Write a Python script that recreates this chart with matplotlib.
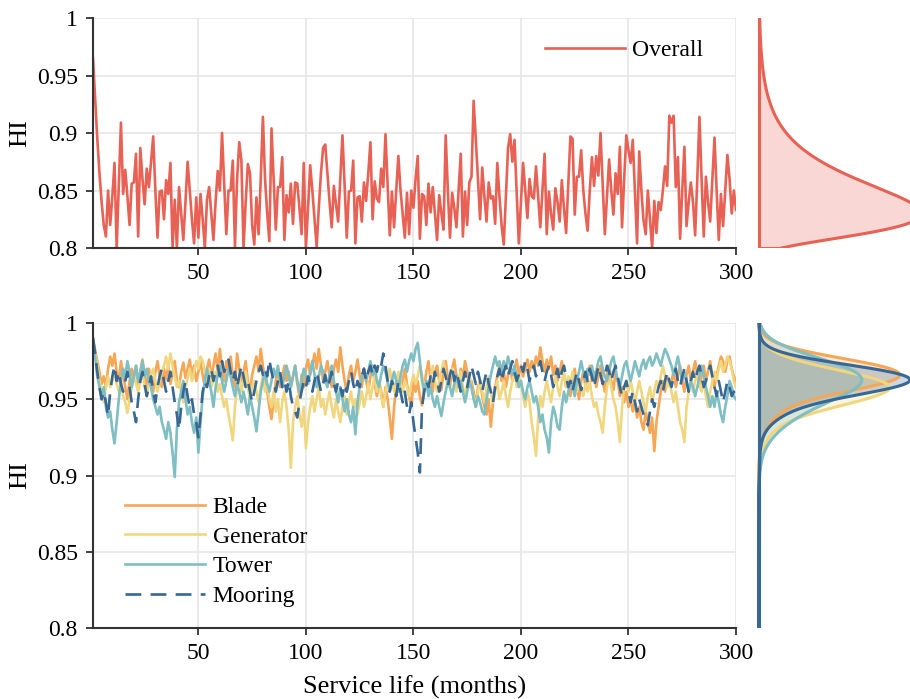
import numpy as np
import matplotlib
matplotlib.use("Agg")
import matplotlib.pyplot as plt

plt.rcParams['font.family'] = ['Liberation Serif', 'DejaVu Serif']

# 1. Data (HI per month, months 1..300)
months = np.arange(1, 301)

overall = [
    0.965, 0.930, 0.895, 0.865, 0.840, 0.820, 0.810, 0.850, 0.820, 0.845,
    0.874, 0.800, 0.855, 0.909, 0.847, 0.868, 0.845, 0.820, 0.856, 0.857,
    0.882, 0.810, 0.887, 0.860, 0.838, 0.869, 0.853, 0.875, 0.897, 0.850,
    0.809, 0.849, 0.850, 0.825, 0.859, 0.847, 0.874, 0.800, 0.842, 0.800,
    0.853, 0.830, 0.807, 0.840, 0.875, 0.850, 0.825, 0.804, 0.844, 0.809,
    0.847, 0.825, 0.800, 0.842, 0.853, 0.830, 0.807, 0.840, 0.867, 0.850,
    0.900, 0.855, 0.812, 0.850, 0.850, 0.876, 0.801, 0.860, 0.892, 0.876,
    0.800, 0.840, 0.873, 0.865, 0.820, 0.803, 0.844, 0.812, 0.860, 0.914,
    0.860, 0.830, 0.806, 0.904, 0.860, 0.816, 0.853, 0.853, 0.879, 0.807,
    0.846, 0.831, 0.856, 0.821, 0.857, 0.856, 0.835, 0.812, 0.874, 0.800,
    0.835, 0.872, 0.850, 0.825, 0.801, 0.835, 0.865, 0.887, 0.890, 0.865,
    0.840, 0.818, 0.854, 0.838, 0.823, 0.860, 0.898, 0.855, 0.809, 0.849,
    0.850, 0.876, 0.804, 0.844, 0.845, 0.823, 0.857, 0.841, 0.865, 0.892,
    0.825, 0.858, 0.843, 0.840, 0.869, 0.853, 0.899, 0.855, 0.811, 0.849,
    0.818, 0.850, 0.880, 0.850, 0.830, 0.809, 0.848, 0.812, 0.850, 0.835,
    0.860, 0.880, 0.808, 0.847, 0.845, 0.820, 0.856, 0.831, 0.853, 0.830,
    0.807, 0.846, 0.830, 0.816, 0.898, 0.850, 0.809, 0.848, 0.835, 0.818,
    0.850, 0.882, 0.810, 0.849, 0.820, 0.857, 0.862, 0.928, 0.895, 0.860,
    0.825, 0.870, 0.845, 0.823, 0.857, 0.843, 0.845, 0.821, 0.874, 0.845,
    0.820, 0.803, 0.845, 0.887, 0.899, 0.875, 0.894, 0.850, 0.804, 0.840,
    0.874, 0.850, 0.826, 0.860, 0.845, 0.843, 0.871, 0.845, 0.818, 0.850,
    0.882, 0.812, 0.849, 0.830, 0.816, 0.852, 0.840, 0.823, 0.859, 0.835,
    0.813, 0.855, 0.897, 0.895, 0.829, 0.862, 0.862, 0.885, 0.850, 0.830,
    0.815, 0.850, 0.879, 0.854, 0.880, 0.863, 0.900, 0.855, 0.812, 0.845,
    0.877, 0.850, 0.829, 0.865, 0.847, 0.888, 0.818, 0.860, 0.898, 0.885,
    0.874, 0.894, 0.850, 0.804, 0.884, 0.850, 0.824, 0.812, 0.850, 0.825,
    0.800, 0.841, 0.813, 0.840, 0.833, 0.850, 0.871, 0.854, 0.915, 0.909,
    0.915, 0.853, 0.879, 0.808, 0.850, 0.888, 0.819, 0.840, 0.857, 0.840,
    0.811, 0.860, 0.914, 0.860, 0.810, 0.862, 0.840, 0.823, 0.860, 0.896,
    0.850, 0.807, 0.847, 0.819, 0.850, 0.881, 0.860, 0.830, 0.850, 0.833,
]

blade = [
    0.990, 0.982, 0.975, 0.968, 0.960, 0.965, 0.958, 0.970, 0.978, 0.972,
    0.980, 0.968, 0.962, 0.975, 0.966, 0.958, 0.950, 0.962, 0.970, 0.964,
    0.972, 0.960, 0.968, 0.976, 0.966, 0.958, 0.970, 0.962, 0.955, 0.968,
    0.975, 0.965, 0.958, 0.970, 0.963, 0.972, 0.960, 0.967, 0.975, 0.962,
    0.958, 0.968, 0.974, 0.964, 0.970, 0.976, 0.966, 0.972, 0.962, 0.968,
    0.975, 0.966, 0.958, 0.970, 0.976, 0.964, 0.972, 0.980, 0.968, 0.983,
    0.970, 0.962, 0.975, 0.968, 0.978, 0.965, 0.958, 0.980, 0.970, 0.962,
    0.968, 0.975, 0.962, 0.955, 0.966, 0.972, 0.978, 0.968, 0.983, 0.972,
    0.962, 0.955, 0.945, 0.937, 0.950, 0.962, 0.970, 0.958, 0.965, 0.972,
    0.962, 0.968, 0.958, 0.965, 0.972, 0.960, 0.952, 0.966, 0.958, 0.970,
    0.976, 0.966, 0.972, 0.980, 0.970, 0.983, 0.972, 0.962, 0.968, 0.975,
    0.965, 0.958, 0.970, 0.976, 0.968, 0.984, 0.972, 0.962, 0.955, 0.966,
    0.972, 0.962, 0.968, 0.976, 0.966, 0.958, 0.970, 0.962, 0.955, 0.965,
    0.972, 0.960, 0.952, 0.962, 0.955, 0.945, 0.958, 0.950, 0.938, 0.924,
    0.945, 0.958, 0.965, 0.955, 0.962, 0.970, 0.960, 0.952, 0.945, 0.962,
    0.955, 0.962, 0.952, 0.946, 0.958, 0.968, 0.975, 0.962, 0.955, 0.968,
    0.972, 0.962, 0.956, 0.968, 0.975, 0.964, 0.958, 0.970, 0.976, 0.965,
    0.958, 0.970, 0.964, 0.975, 0.968, 0.958, 0.962, 0.955, 0.945, 0.958,
    0.962, 0.952, 0.945, 0.940, 0.950, 0.932, 0.948, 0.958, 0.965, 0.972,
    0.962, 0.968, 0.958, 0.966, 0.972, 0.962, 0.970, 0.976, 0.966, 0.972,
    0.965, 0.970, 0.976, 0.968, 0.975, 0.970, 0.978, 0.972, 0.984, 0.975,
    0.968, 0.976, 0.970, 0.978, 0.966, 0.972, 0.962, 0.968, 0.975, 0.966,
    0.958, 0.962, 0.952, 0.965, 0.970, 0.958, 0.950, 0.962, 0.968, 0.958,
    0.965, 0.972, 0.962, 0.968, 0.958, 0.965, 0.972, 0.962, 0.955, 0.966,
    0.972, 0.962, 0.956, 0.968, 0.962, 0.952, 0.958, 0.948, 0.955, 0.945,
    0.950, 0.942, 0.948, 0.938, 0.945, 0.935, 0.930, 0.942, 0.935, 0.928,
    0.938, 0.916, 0.935, 0.945, 0.955, 0.962, 0.955, 0.965, 0.960, 0.962,
    0.968, 0.958, 0.965, 0.972, 0.962, 0.955, 0.966, 0.972, 0.962, 0.968,
    0.975, 0.966, 0.958, 0.965, 0.972, 0.962, 0.968, 0.975, 0.965, 0.958,
    0.966, 0.972, 0.978, 0.975, 0.968, 0.975, 0.978, 0.970, 0.965, 0.962,
]

generator = [
    0.990, 0.980, 0.972, 0.962, 0.955, 0.948, 0.958, 0.965, 0.958, 0.962,
    0.968, 0.960, 0.955, 0.962, 0.952, 0.948, 0.941, 0.950, 0.958, 0.965,
    0.960, 0.955, 0.962, 0.968, 0.958, 0.952, 0.960, 0.966, 0.970, 0.962,
    0.955, 0.962, 0.968, 0.972, 0.978, 0.970, 0.980, 0.972, 0.965, 0.958,
    0.962, 0.955, 0.948, 0.958, 0.964, 0.970, 0.962, 0.968, 0.975, 0.970,
    0.978, 0.975, 0.968, 0.962, 0.970, 0.958, 0.962, 0.968, 0.955, 0.960,
    0.952, 0.945, 0.950, 0.940, 0.932, 0.923, 0.945, 0.958, 0.965, 0.955,
    0.962, 0.968, 0.958, 0.950, 0.958, 0.962, 0.955, 0.948, 0.958, 0.965,
    0.955, 0.960, 0.950, 0.945, 0.955, 0.942, 0.950, 0.935, 0.948, 0.955,
    0.945, 0.930, 0.905, 0.935, 0.945, 0.952, 0.940, 0.932, 0.945, 0.918,
    0.935, 0.945, 0.952, 0.942, 0.950, 0.958, 0.945, 0.950, 0.940, 0.948,
    0.955, 0.945, 0.938, 0.950, 0.942, 0.935, 0.945, 0.952, 0.940, 0.948,
    0.955, 0.945, 0.950, 0.940, 0.948, 0.955, 0.945, 0.952, 0.960, 0.950,
    0.958, 0.965, 0.955, 0.962, 0.952, 0.945, 0.955, 0.962, 0.970, 0.962,
    0.955, 0.962, 0.968, 0.960, 0.955, 0.962, 0.958, 0.952, 0.960, 0.966,
    0.960, 0.965, 0.972, 0.966, 0.958, 0.962, 0.955, 0.965, 0.972, 0.962,
    0.955, 0.962, 0.968, 0.975, 0.965, 0.958, 0.965, 0.970, 0.962, 0.955,
    0.962, 0.968, 0.958, 0.952, 0.960, 0.966, 0.958, 0.952, 0.945, 0.955,
    0.962, 0.955, 0.948, 0.958, 0.965, 0.955, 0.948, 0.955, 0.962, 0.950,
    0.955, 0.962, 0.952, 0.945, 0.955, 0.962, 0.968, 0.958, 0.965, 0.960,
    0.952, 0.945, 0.955, 0.948, 0.935, 0.925, 0.913, 0.938, 0.952, 0.945,
    0.955, 0.962, 0.955, 0.948, 0.958, 0.965, 0.958, 0.952, 0.962, 0.968,
    0.958, 0.965, 0.960, 0.968, 0.962, 0.955, 0.962, 0.958, 0.952, 0.960,
    0.955, 0.962, 0.952, 0.945, 0.948, 0.940, 0.935, 0.928, 0.945, 0.958,
    0.965, 0.958, 0.950, 0.945, 0.935, 0.922, 0.945, 0.958, 0.962, 0.955,
    0.962, 0.955, 0.948, 0.955, 0.962, 0.955, 0.948, 0.942, 0.952, 0.958,
    0.948, 0.955, 0.962, 0.958, 0.965, 0.972, 0.965, 0.958, 0.962, 0.955,
    0.948, 0.955, 0.945, 0.935, 0.930, 0.922, 0.945, 0.955, 0.962, 0.955,
    0.962, 0.968, 0.960, 0.955, 0.962, 0.952, 0.945, 0.955, 0.962, 0.968,
    0.962, 0.970, 0.975, 0.968, 0.972, 0.978, 0.975, 0.970, 0.962, 0.958,
]

tower = [
    0.990, 0.978, 0.965, 0.958, 0.950, 0.958, 0.945, 0.938, 0.942, 0.930,
    0.921, 0.935, 0.950, 0.962, 0.970, 0.965, 0.975, 0.968, 0.958, 0.965,
    0.972, 0.962, 0.968, 0.975, 0.965, 0.970, 0.962, 0.958, 0.950, 0.945,
    0.940, 0.945, 0.935, 0.930, 0.924, 0.935, 0.928, 0.915, 0.899, 0.930,
    0.948, 0.955, 0.962, 0.950, 0.940, 0.945, 0.935, 0.928, 0.938, 0.915,
    0.935, 0.952, 0.962, 0.970, 0.962, 0.955, 0.945, 0.958, 0.966, 0.972,
    0.962, 0.955, 0.962, 0.970, 0.965, 0.958, 0.952, 0.960, 0.955, 0.948,
    0.955, 0.948, 0.940, 0.952, 0.945, 0.938, 0.929, 0.942, 0.955, 0.962,
    0.968, 0.960, 0.955, 0.962, 0.970, 0.965, 0.972, 0.962, 0.958, 0.965,
    0.972, 0.966, 0.958, 0.965, 0.972, 0.962, 0.955, 0.962, 0.970, 0.965,
    0.960, 0.968, 0.975, 0.966, 0.958, 0.965, 0.972, 0.968, 0.962, 0.958,
    0.966, 0.972, 0.962, 0.955, 0.948, 0.958, 0.950, 0.942, 0.950, 0.940,
    0.935, 0.945, 0.927, 0.948, 0.958, 0.965, 0.970, 0.962, 0.968, 0.975,
    0.966, 0.972, 0.962, 0.958, 0.966, 0.972, 0.968, 0.962, 0.955, 0.962,
    0.968, 0.962, 0.955, 0.965, 0.972, 0.976, 0.968, 0.975, 0.980, 0.975,
    0.983, 0.987, 0.975, 0.962, 0.955, 0.962, 0.952, 0.958, 0.950, 0.945,
    0.952, 0.945, 0.939, 0.948, 0.955, 0.962, 0.958, 0.952, 0.960, 0.966,
    0.958, 0.962, 0.955, 0.948, 0.955, 0.962, 0.958, 0.950, 0.945, 0.952,
    0.948, 0.942, 0.940, 0.950, 0.958, 0.966, 0.972, 0.978, 0.972, 0.975,
    0.968, 0.975, 0.970, 0.978, 0.972, 0.966, 0.972, 0.965, 0.958, 0.962,
    0.955, 0.950, 0.958, 0.962, 0.955, 0.948, 0.952, 0.945, 0.935, 0.940,
    0.930, 0.925, 0.915, 0.935, 0.945, 0.940, 0.932, 0.930, 0.945, 0.955,
    0.948, 0.955, 0.962, 0.958, 0.952, 0.962, 0.968, 0.975, 0.968, 0.962,
    0.970, 0.966, 0.972, 0.962, 0.968, 0.975, 0.978, 0.970, 0.965, 0.962,
    0.968, 0.975, 0.978, 0.970, 0.962, 0.958, 0.965, 0.972, 0.975, 0.968,
    0.962, 0.968, 0.975, 0.970, 0.965, 0.972, 0.976, 0.970, 0.975, 0.978,
    0.972, 0.975, 0.980, 0.976, 0.972, 0.978, 0.983, 0.980, 0.976, 0.972,
    0.966, 0.972, 0.978, 0.970, 0.962, 0.968, 0.962, 0.955, 0.962, 0.958,
    0.952, 0.958, 0.965, 0.972, 0.966, 0.958, 0.952, 0.945, 0.952, 0.945,
    0.955, 0.948, 0.940, 0.935, 0.945, 0.952, 0.962, 0.958, 0.952, 0.950,
]

mooring = [
    0.990, 0.980, 0.968, 0.958, 0.950, 0.955, 0.948, 0.939, 0.955, 0.965,
    0.972, 0.962, 0.968, 0.960, 0.955, 0.962, 0.968, 0.958, 0.948, 0.942,
    0.935, 0.950, 0.962, 0.968, 0.960, 0.952, 0.958, 0.965, 0.955, 0.948,
    0.958, 0.965, 0.970, 0.962, 0.955, 0.962, 0.968, 0.958, 0.948, 0.940,
    0.930, 0.945, 0.955, 0.962, 0.952, 0.945, 0.950, 0.940, 0.935, 0.925,
    0.940, 0.955, 0.962, 0.958, 0.965, 0.970, 0.962, 0.968, 0.972, 0.965,
    0.975, 0.968, 0.972, 0.976, 0.968, 0.962, 0.968, 0.958, 0.965, 0.972,
    0.965, 0.958, 0.962, 0.955, 0.948, 0.955, 0.962, 0.968, 0.972, 0.966,
    0.970, 0.965, 0.976, 0.968, 0.962, 0.955, 0.962, 0.968, 0.958, 0.962,
    0.955, 0.962, 0.952, 0.945, 0.942, 0.938, 0.948, 0.955, 0.962, 0.958,
    0.965, 0.960, 0.955, 0.962, 0.968, 0.962, 0.955, 0.960, 0.966, 0.958,
    0.962, 0.968, 0.960, 0.955, 0.962, 0.958, 0.952, 0.960, 0.955, 0.962,
    0.968, 0.960, 0.955, 0.962, 0.958, 0.965, 0.970, 0.962, 0.968, 0.972,
    0.966, 0.972, 0.968, 0.975, 0.972, 0.980, 0.972, 0.962, 0.955, 0.962,
    0.958, 0.952, 0.962, 0.955, 0.948, 0.955, 0.945, 0.940, 0.948, 0.935,
    0.925, 0.915, 0.902, 0.945, 0.955, 0.962, 0.958, 0.965, 0.960, 0.968,
    0.962, 0.955, 0.962, 0.970, 0.965, 0.958, 0.966, 0.972, 0.962, 0.968,
    0.962, 0.955, 0.962, 0.968, 0.958, 0.965, 0.972, 0.966, 0.960, 0.968,
    0.962, 0.955, 0.962, 0.968, 0.960, 0.955, 0.948, 0.958, 0.965, 0.970,
    0.962, 0.968, 0.972, 0.965, 0.970, 0.975, 0.968, 0.962, 0.966, 0.972,
    0.968, 0.975, 0.970, 0.962, 0.968, 0.972, 0.965, 0.970, 0.975, 0.968,
    0.962, 0.968, 0.972, 0.966, 0.958, 0.965, 0.970, 0.962, 0.968, 0.972,
    0.965, 0.958, 0.962, 0.955, 0.962, 0.968, 0.962, 0.956, 0.962, 0.968,
    0.962, 0.970, 0.965, 0.958, 0.965, 0.972, 0.966, 0.960, 0.965, 0.972,
    0.968, 0.962, 0.968, 0.972, 0.965, 0.958, 0.952, 0.958, 0.962, 0.955,
    0.948, 0.955, 0.948, 0.942, 0.950, 0.945, 0.940, 0.938, 0.933, 0.942,
    0.950, 0.945, 0.952, 0.958, 0.962, 0.955, 0.962, 0.968, 0.962, 0.958,
    0.965, 0.970, 0.962, 0.958, 0.965, 0.970, 0.962, 0.955, 0.962, 0.968,
    0.962, 0.968, 0.972, 0.965, 0.958, 0.962, 0.968, 0.972, 0.965, 0.958,
    0.952, 0.962, 0.955, 0.948, 0.955, 0.962, 0.958, 0.952, 0.955, 0.950,
]

components = ["Blade", "Generator", "Tower", "Mooring"]
comp_values = [blade, generator, tower, mooring]
comp_colors = ["#F7A656", "#F0D77F", "#7FBEC2", "#376795"]
overall_color = "#E76254"

x_ticks = [50, 100, 150, 200, 250, 300]
y_ticks = [0.8, 0.85, 0.9, 0.95, 1.0]


def kde(values, grid, bw_scale=1.0):
    v = np.asarray(values)
    h = v.std(ddof=1) * len(v) ** (-1 / 5) * bw_scale
    z = (grid[:, None] - v[None, :]) / h
    return np.exp(-0.5 * z ** 2).mean(axis=1) / (h * np.sqrt(2 * np.pi))


def lognorm_fit(values, grid, loc):
    # shifted log-normal fitted to log(y - loc)
    t = np.log(np.asarray(values) - loc)
    mu, sd = t.mean(), t.std()
    d = grid - loc
    return np.exp(-(np.log(d) - mu) ** 2 / (2 * sd ** 2)) / (d * sd * np.sqrt(2 * np.pi))


def style_main(ax):
    ax.set_xlim(1, 300)
    ax.set_ylim(0.8, 1.0)
    ax.set_xticks(x_ticks)
    ax.set_yticks(y_ticks)
    ax.set_yticklabels([f"{t:g}" for t in y_ticks])
    ax.grid(True, color="#E6E6E6", lw=1.2)
    ax.set_axisbelow(True)
    for s in ["top", "right"]:
        ax.spines[s].set_visible(False)
    for s in ["left", "bottom"]:
        ax.spines[s].set_color("#333333")
        ax.spines[s].set_linewidth(1.5)
    ax.tick_params(direction="out", length=5, width=1.3, colors="#333333",
                   labelsize=17, labelcolor="black", pad=6)
    ax.set_ylabel("HI", fontsize=19, labelpad=4)


fig = plt.figure(figsize=(9.1, 6.99), dpi=100)

W, H = 910, 699
def px_axes(l, t, r, b):
    return fig.add_axes([l / W, 1 - b / H, (r - l) / W, (b - t) / H])

# 2. Top panel: overall HI
ax1 = px_axes(93, 18, 736, 248)
ax1.plot(months, overall, color=overall_color, lw=1.9, label="Overall")
style_main(ax1)
ax1.legend(loc="center left", bbox_to_anchor=(0.703, 0.86), frameon=False,
           fontsize=17, handlelength=3.4, handletextpad=0.3, borderpad=0,
           borderaxespad=0)

# 3. Bottom panel: component HI
ax2 = px_axes(93, 323, 736, 628)
for name, vals, col in zip(components, comp_values, comp_colors):
    if name == "Mooring":
        ax2.plot(months, vals, color=col, lw=1.9, dashes=(6, 3.5), label=name)
    else:
        ax2.plot(months, vals, color=col, lw=1.9, label=name)
style_main(ax2)
ax2.set_xlabel("Service life (months)", fontsize=19, labelpad=8)
ax2.legend(loc="center left", bbox_to_anchor=(0.05, 0.25), frameon=False,
           fontsize=17, handlelength=3.4, handletextpad=0.3, borderpad=0,
           borderaxespad=0, labelspacing=0.34)

# 4. Side densities
grid = np.linspace(0.8, 1.0, 400)

axd1 = px_axes(757, 18, 910, 248)
f_top = lognorm_fit(overall, grid, 0.78)
axd1.fill_betweenx(grid, 0, f_top, facecolor=overall_color, alpha=0.25, lw=0)
axd1.plot(f_top, grid, color=overall_color, lw=2.2)
axd1.plot([0, 0], [0.8, 1.0], color=overall_color, lw=2.2)
axd1.plot([0, f_top[0]], [0.8, 0.8], color=overall_color, lw=2.2)
axd1.set_ylim(0.8, 1.0)
axd1.set_xlim(-0.01 * f_top.max(), 0.93 * f_top.max())
axd1.axis("off")

axd2 = px_axes(757, 323, 910, 628)
fmax = 0
for name, vals, col in zip(components, comp_values, comp_colors):
    f = kde(vals, grid, 2.0)
    fmax = max(fmax, f.max())
    axd2.fill_betweenx(grid, 0, f, facecolor=col, alpha=0.25, lw=0)
    axd2.plot(f, grid, color=col, lw=2.2)
    axd2.plot([0, 0], [0.8, 1.0], color=col, lw=2.2)
axd2.set_ylim(0.8, 1.0)
axd2.set_xlim(-0.01 * fmax, fmax)
axd2.axis("off")

fig.savefig("out.png", dpi=100)
